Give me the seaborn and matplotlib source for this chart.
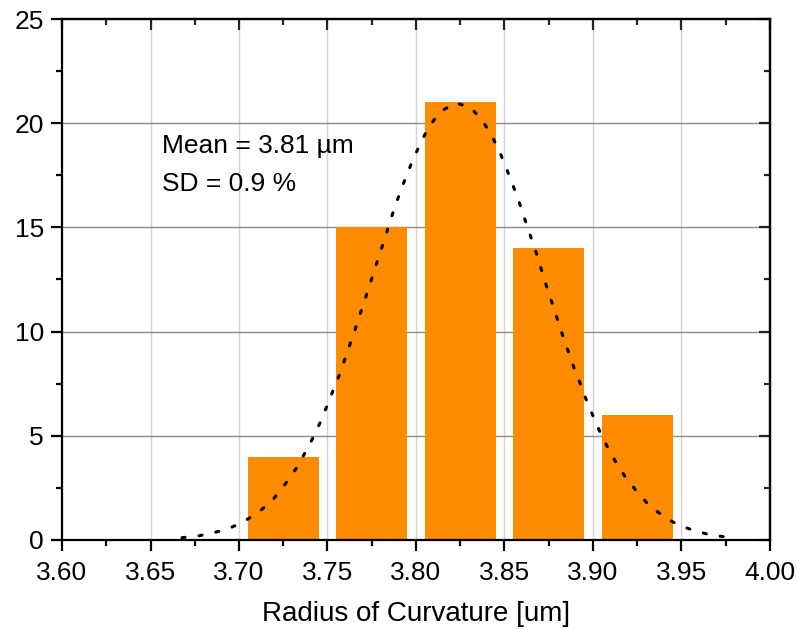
import matplotlib
matplotlib.use("Agg")
import matplotlib.pyplot as plt
import seaborn as sns
from matplotlib.ticker import MultipleLocator

# histogram bins (centres) and counts
bin_centers = [3.725, 3.775, 3.825, 3.875, 3.925]
counts = [4, 15, 21, 14, 6]

# fitted curve
curve_x = [3.6678, 3.6768, 3.6853, 3.6940, 3.7027, 3.7115, 3.7198, 3.7266, 3.7326,
           3.7375, 3.7420, 3.7462, 3.7497, 3.7532, 3.7567, 3.7597, 3.7627, 3.7657,
           3.7685, 3.7714, 3.7742, 3.7770, 3.7798, 3.7827, 3.7853, 3.7883, 3.7914,
           3.7947, 3.7983, 3.8023, 3.8069, 3.8136, 3.8222, 3.8309, 3.8382, 3.8433,
           3.8475, 3.8510, 3.8544, 3.8576, 3.8606, 3.8634, 3.8665, 3.8693, 3.8719,
           3.8747, 3.8776, 3.8804, 3.8832, 3.8863, 3.8893, 3.8927, 3.8960, 3.8996,
           3.9034, 3.9077, 3.9124, 3.9179, 3.9245, 3.9320, 3.9407, 3.9475, 3.9561,
           3.9650, 3.9736]
curve_y = [0.11, 0.19, 0.34, 0.54, 0.88, 1.36, 2.00, 2.74, 3.47,
           4.21, 4.94, 5.70, 6.43, 7.18, 7.92, 8.65, 9.39, 10.12,
           10.86, 11.60, 12.33, 13.07, 13.81, 14.54, 15.29, 16.03, 16.78,
           17.50, 18.25, 18.99, 19.78, 20.54, 20.98, 20.76, 20.04, 19.32,
           18.58, 17.85, 17.10, 16.38, 15.63, 14.89, 14.16, 13.42, 12.67,
           11.93, 11.19, 10.46, 9.73, 8.99, 8.25, 7.52, 6.77, 6.03,
           5.29, 4.54, 3.81, 3.07, 2.35, 1.63, 1.09, 0.75, 0.48,
           0.27, 0.16]

x_ticks = [3.60, 3.65, 3.70, 3.75, 3.80, 3.85, 3.90, 3.95, 4.00]
y_ticks = [0, 5, 10, 15, 20, 25]

sns.set_style("white")
plt.rcParams["font.family"] = ["Liberation Sans", "DejaVu Sans"]
plt.rcParams["text.color"] = "black"

fig = plt.figure(figsize=(7.97, 6.30), dpi=100)
ax = fig.add_axes([0.0778, 0.1429, 0.8883, 0.8269])

# grid behind everything
for xv in x_ticks[1:-1]:
    ax.axvline(xv, color="#d4d4d4", lw=1.0, zorder=0)
for yv in y_ticks[1:-1]:
    ax.axhline(yv, color="#8c8c8c", lw=1.0, zorder=0)

sns.histplot(x=bin_centers, weights=counts, binwidth=0.05, binrange=(3.70, 3.95),
             shrink=0.8, color="#FF8C00", alpha=1, linewidth=0, ax=ax, zorder=2)

sns.lineplot(x=curve_x, y=curve_y, sort=False, color="black", lw=2.2,
             linestyle=(0, (1.0, 4.6)), dash_capstyle="round", ax=ax, zorder=3)

ax.text(3.6565, 18.9, "Mean = 3.81 µm", fontsize=19, va="center", ha="left", color="black")
ax.text(3.6565, 17.1, "SD = 0.9 %", fontsize=19, va="center", ha="left", color="black")

ax.set_xlim(3.60, 4.00)
ax.set_ylim(0, 25)
ax.set_xticks(x_ticks)
ax.set_xticklabels([f"{v:.2f}" for v in x_ticks])
ax.set_yticks(y_ticks)
ax.xaxis.set_minor_locator(MultipleLocator(0.025))
ax.yaxis.set_minor_locator(MultipleLocator(2.5))
ax.set_xlabel("Radius of Curvature [um]", fontsize=20, labelpad=12, color="black")
ax.set_ylabel("")

for sp in ax.spines.values():
    sp.set_visible(True)
    sp.set_linewidth(1.6)
    sp.set_color("black")

ax.tick_params(which="both", bottom=True, left=True, top=False, right=False)
ax.tick_params(which="major", direction="out", length=8, width=1.6,
               labelsize=19, pad=5, colors="black")
ax.tick_params(which="minor", direction="out", length=4.5, width=1.6, colors="black")
ax.tick_params(axis="x", which="major", pad=7)

# inward ticks on top and right
top = ax.secondary_xaxis("top")
top.set_xticks(x_ticks)
top.xaxis.set_minor_locator(MultipleLocator(0.025))
top.tick_params(which="both", top=True, labeltop=False)
top.tick_params(which="major", direction="in", length=8, width=1.6)
top.tick_params(which="minor", direction="in", length=4.5, width=1.6)
top.spines["top"].set_linewidth(1.6)

right = ax.secondary_yaxis("right")
right.set_yticks(y_ticks)
right.yaxis.set_minor_locator(MultipleLocator(2.5))
right.tick_params(which="both", right=True, labelright=False)
right.tick_params(which="major", direction="in", length=8, width=1.6)
right.tick_params(which="minor", direction="in", length=4.5, width=1.6)
right.spines["right"].set_linewidth(1.6)

fig.savefig("out.png", dpi=100)
